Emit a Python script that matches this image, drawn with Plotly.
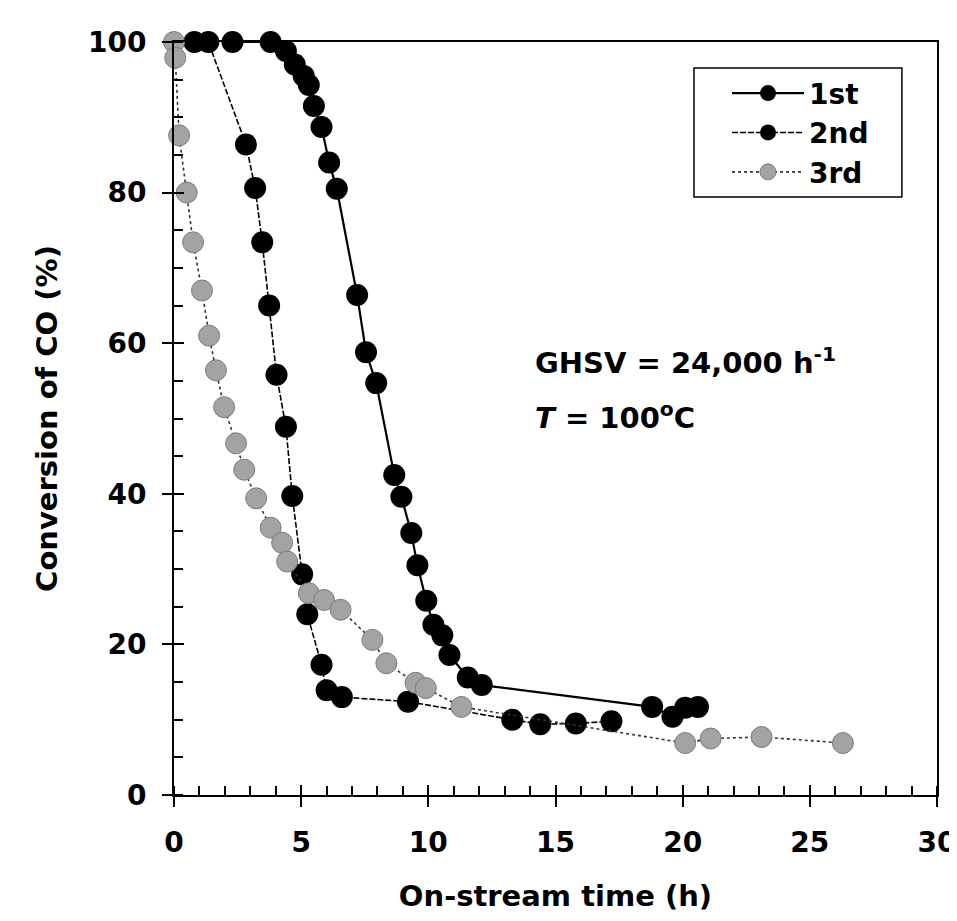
import plotly.graph_objects as go

# ---- data ----
t_1st = [2.3, 3.8, 4.4, 4.75, 5.1, 5.3, 5.5, 5.8, 6.1, 6.4, 7.2, 7.55, 7.95, 8.66, 8.94,
         9.33, 9.57, 9.92, 10.2, 10.55, 10.83, 11.55, 12.1, 18.8, 19.6, 20.1, 20.6]
conv_1st = [100, 100, 98.8, 97.0, 95.5, 94.3, 91.5, 88.7, 84.0, 80.5, 66.4, 58.8, 54.7, 42.5, 39.6,
            34.8, 30.5, 25.8, 22.6, 21.2, 18.6, 15.6, 14.6, 11.7, 10.4, 11.6, 11.7]

t_2nd = [0.8, 1.35, 2.83, 3.19, 3.47, 3.74, 4.03, 4.4, 4.65, 5.04, 5.24, 5.8, 6.0, 6.6, 9.2,
         13.3, 14.4, 15.8, 17.2]
conv_2nd = [100, 100, 86.4, 80.6, 73.4, 65.0, 55.8, 48.9, 39.7, 29.3, 24.0, 17.3, 13.9, 13.0, 12.4,
            10.0, 9.4, 9.5, 9.8]

t_3rd = [0.0, 0.05, 0.2, 0.5, 0.75, 1.1, 1.38, 1.65, 1.97, 2.44, 2.76, 3.23, 3.8, 4.25, 4.45,
         5.3, 5.9, 6.55, 7.8, 8.35, 9.5, 9.9, 11.3, 20.1, 21.1, 23.1, 26.3]
conv_3rd = [100, 97.9, 87.6, 80.0, 73.4, 67.0, 61.0, 56.4, 51.5, 46.7, 43.2, 39.4, 35.5, 33.5, 31.0,
            26.8, 25.9, 24.6, 20.6, 17.5, 14.9, 14.2, 11.7, 6.9, 7.5, 7.7, 6.9]

series_names = ["1st", "2nd", "3rd"]
x_ticks = [0, 5, 10, 15, 20, 25, 30]
y_ticks = [0, 20, 40, 60, 80, 100]

FONT = "DejaVu Sans"

fig = go.Figure()

fig.add_trace(go.Scatter(
    x=t_1st, y=conv_1st, name=series_names[0], mode="lines+markers",
    line=dict(color="black", width=2.2),
    marker=dict(symbol="circle", size=22, color="black"),
    cliponaxis=False,
))
fig.add_trace(go.Scatter(
    x=t_2nd, y=conv_2nd, name=series_names[1], mode="lines+markers",
    line=dict(color="black", width=1.6, dash="6px,2px"),
    marker=dict(symbol="circle", size=22, color="black"),
    cliponaxis=False,
))
fig.add_trace(go.Scatter(
    x=t_3rd, y=conv_3rd, name=series_names[2], mode="lines+markers",
    line=dict(color="#333333", width=1.6, dash="dot"),
    marker=dict(symbol="circle", size=21, color="#a3a3a3",
                line=dict(color="#7a7a7a", width=1)),
    cliponaxis=False,
))
# dummy trace to carry the overlay axes (inward halves of major ticks)
fig.add_trace(go.Scatter(x=[], y=[], xaxis="x2", yaxis="y2", showlegend=False,
                         hoverinfo="skip"))

fig.add_annotation(x=14.1, y=57.6, xref="x", yref="y", xanchor="left", yanchor="middle",
                   text="GHSV = 24,000 h<sup>-1</sup>", showarrow=False,
                   font=dict(family=FONT, size=29, color="black", weight="bold"))
fig.add_annotation(x=14.1, y=50.3, xref="x", yref="y", xanchor="left", yanchor="middle",
                   text="<i>T</i> = 100<sup>o</sup>C", showarrow=False,
                   font=dict(family=FONT, size=29, color="black", weight="bold"))

# legend frame
fig.add_shape(type="rect", xref="paper", yref="paper",
              x0=0.6815, x1=0.954, y0=0.794, y1=0.9655,
              line=dict(color="black", width=1.5), fillcolor="rgba(0,0,0,0)", layer="above")

tickfont = dict(family=FONT, size=28, color="black", weight="bold")
titlefont = dict(family=FONT, size=29, color="black", weight="bold")

# page body has an 8px margin, so the figure is sized and offset to compensate
fig.update_layout(
    width=949, height=905,
    paper_bgcolor="white", plot_bgcolor="white",
    margin=dict(l=166, r=20, t=34, b=118, autoexpand=False),
    showlegend=True,
    legend=dict(
        x=0.7248, y=0.965, xanchor="left", yanchor="top",
        bgcolor="rgba(0,0,0,0)", borderwidth=0,
        font=dict(family=FONT, size=28, color="black", weight="bold"),
        itemwidth=72, tracegroupgap=0,
    ),
    xaxis=dict(
        range=[0, 30], tickvals=x_ticks, ticktext=[str(v) for v in x_ticks],
        ticks="outside", ticklen=10, tickwidth=2, tickcolor="black",
        minor=dict(dtick=1, ticks="inside", ticklen=9, tickwidth=1.5, tickcolor="black"),
        showline=True, linecolor="black", linewidth=2, mirror=True,
        showgrid=False, zeroline=False, automargin=False,
        tickfont=tickfont, ticklabelstandoff=11, ticklabeloverflow="allow",
        title=dict(text="On-stream time (h)", font=titlefont, standoff=28),
    ),
    yaxis=dict(
        range=[0, 100], tickvals=y_ticks, ticktext=[str(v) for v in y_ticks],
        ticks="outside", ticklen=10, tickwidth=2, tickcolor="black",
        minor=dict(dtick=5, ticks="inside", ticklen=9, tickwidth=1.5, tickcolor="black"),
        showline=True, linecolor="black", linewidth=2, mirror=True,
        showgrid=False, zeroline=False, automargin=False,
        tickfont=tickfont, ticklabelstandoff=10, ticklabeloverflow="allow",
        title=dict(text="Conversion of CO (%)", font=titlefont, standoff=22),
    ),
    xaxis2=dict(
        range=[0, 30], overlaying="x", anchor="y2", side="bottom",
        tickvals=x_ticks, ticks="inside", ticklen=10, tickwidth=2, tickcolor="black",
        showticklabels=False, showline=False, showgrid=False, zeroline=False,
        automargin=False,
    ),
    yaxis2=dict(
        range=[0, 100], overlaying="y", anchor="x2", side="left",
        tickvals=y_ticks, ticks="inside", ticklen=10, tickwidth=2, tickcolor="black",
        showticklabels=False, showline=False, showgrid=False, zeroline=False,
        automargin=False,
    ),
)

fig.write_html("out.html")
